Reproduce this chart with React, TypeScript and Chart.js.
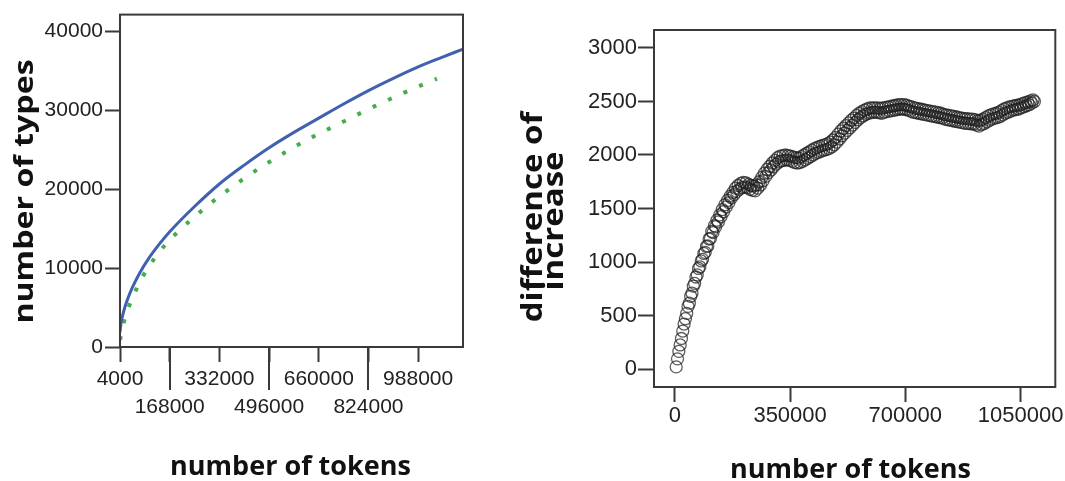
import { useEffect, useRef } from "react";
import { Chart, registerables } from "chart.js";

Chart.register(...registerables);

// ---- Left panel: type growth against corpus size ----
const observedTokens = [4000, 8000, 16000, 28000, 45000, 70000, 100000, 135000, 168000, 250000, 332000, 414000, 496000, 578000, 660000, 742000, 824000, 906000, 988000, 1062000, 1136000];
const observedTypes = [1900, 3150, 4500, 5950, 7550, 9450, 11300, 13100, 14600, 17800, 20660, 23050, 25250, 27200, 29000, 30800, 32500, 34050, 35500, 36650, 37750];

const modelTokens = [4000, 15000, 31000, 53000, 80000, 119000, 158000, 202000, 301000, 350000, 400000, 505000, 612000, 664000, 720000, 830000, 940000, 997000, 1050000];
const modelTypes = [900, 2900, 4900, 6900, 9000, 11300, 13150, 14850, 18150, 19600, 21000, 23650, 26050, 27100, 28150, 30250, 32200, 33150, 34000];

const growthXTicks = [4000, 168000, 332000, 496000, 660000, 824000, 988000];
const growthYTicks = [0, 10000, 20000, 30000, 40000];

// ---- Right panel: difference of increase (tokens in thousands) ----
const diffTokensK = [
  4, 8, 12, 16, 20, 24, 28, 32, 36, 40, 44, 48, 52, 56, 60, 64, 68, 72, 76, 80,
  84, 88, 92, 96, 100, 104, 108, 112, 116, 120, 124, 128, 132, 136, 140, 144, 148, 152, 156, 160,
  164, 168, 172, 176, 180, 184, 188, 192, 196, 200, 204, 208, 212, 216, 220, 224, 228, 232, 236, 240,
  244, 248, 252, 256, 260, 264, 268, 272, 276, 280, 284, 288, 292, 296, 300, 304, 308, 312, 316, 320,
  324, 328, 332, 336, 340, 344, 348, 352, 356, 360, 364, 368, 372, 376, 380, 384, 388, 392, 396, 400,
  404, 408, 412, 416, 420, 424, 428, 432, 436, 440, 444, 448, 452, 456, 460, 464, 468, 472, 476, 480,
  484, 488, 492, 496, 500, 504, 508, 512, 516, 520, 524, 528, 532, 536, 540, 544, 548, 552, 556, 560,
  564, 568, 572, 576, 580, 584, 588, 592, 596, 600, 604, 608, 612, 616, 620, 624, 628, 632, 636, 640,
  644, 648, 652, 656, 660, 664, 668, 672, 676, 680, 684, 688, 692, 696, 700, 704, 708, 712, 716, 720,
  724, 728, 732, 736, 740, 744, 748, 752, 756, 760, 764, 768, 772, 776, 780, 784, 788, 792, 796, 800,
  804, 808, 812, 816, 820, 824, 828, 832, 836, 840, 844, 848, 852, 856, 860, 864, 868, 872, 876, 880,
  884, 888, 892, 896, 900, 904, 908, 912, 916, 920, 924, 928, 932, 936, 940, 944, 948, 952, 956, 960,
  964, 968, 972, 976, 980, 984, 988, 992, 996, 1000, 1004, 1008, 1012, 1016, 1020, 1024, 1028, 1032, 1036, 1040,
  1044, 1048, 1052, 1056, 1060, 1064, 1068, 1072, 1076, 1080, 1084, 1088, 1092,
];
const diffValues = [
  20, 95, 165, 225, 285, 355, 420, 470, 520, 585, 615, 680, 710, 775, 800, 860, 880, 940, 955, 1010,
  1025, 1080, 1090, 1145, 1150, 1215, 1220, 1285, 1275, 1340, 1330, 1390, 1375, 1440, 1425, 1490, 1470, 1535, 1515, 1575,
  1555, 1615, 1600, 1650, 1630, 1690, 1660, 1715, 1680, 1735, 1695, 1745, 1700, 1740, 1695, 1725, 1680, 1715, 1670, 1710,
  1665, 1720, 1690, 1750, 1720, 1790, 1760, 1830, 1800, 1865, 1835, 1895, 1860, 1925, 1890, 1950, 1915, 1975, 1935, 1990,
  1945, 1995, 1950, 2000, 1955, 1995, 1950, 1990, 1940, 1980, 1930, 1975, 1925, 1970, 1930, 1985, 1940, 2000, 1955, 2015,
  1970, 2030, 1985, 2045, 2000, 2060, 2015, 2070, 2025, 2080, 2035, 2090, 2045, 2095, 2050, 2105, 2060, 2120, 2075, 2140,
  2095, 2165, 2120, 2195, 2150, 2225, 2180, 2250, 2205, 2275, 2230, 2300, 2255, 2325, 2280, 2345, 2305, 2370, 2330, 2390,
  2350, 2405, 2365, 2420, 2380, 2430, 2390, 2440, 2395, 2440, 2400, 2440, 2400, 2440, 2395, 2435, 2390, 2440, 2400, 2445,
  2405, 2450, 2410, 2455, 2415, 2460, 2420, 2465, 2425, 2470, 2430, 2470, 2430, 2470, 2425, 2465, 2420, 2455, 2410, 2450,
  2400, 2440, 2395, 2435, 2390, 2430, 2385, 2425, 2380, 2420, 2375, 2415, 2370, 2410, 2365, 2405, 2360, 2400, 2355, 2395,
  2350, 2390, 2345, 2380, 2335, 2375, 2330, 2370, 2325, 2365, 2320, 2360, 2315, 2355, 2310, 2350, 2305, 2345, 2300, 2340,
  2295, 2340, 2295, 2335, 2290, 2335, 2290, 2330, 2280, 2320, 2270, 2325, 2285, 2335, 2295, 2350, 2310, 2365, 2325, 2375,
  2335, 2385, 2345, 2390, 2350, 2400, 2360, 2415, 2375, 2430, 2390, 2440, 2400, 2450, 2410, 2455, 2420, 2460, 2425, 2465,
  2430, 2470, 2440, 2480, 2450, 2490, 2460, 2495, 2470, 2505, 2485, 2515, 2500,
];

const diffXTicks = [0, 350000, 700000, 1050000];
const diffYTicks = [0, 500, 1000, 1500, 2000, 2500, 3000];

const TICK_FONT = '"Liberation Sans", Arial, sans-serif';
const TITLE_FONT = '"Open Sans", "DejaVu Sans", sans-serif';
const INK = "#222";
const FRAME = "#3a3a3a";

type TitleSpec = {
  text: string;
  x: number;
  y: number;
  size: number;
  vertical?: boolean;
  stretch?: number;
};

// Draws the plot frame, axis titles and optional long alternate ticks.
function decorPlugin(titles: TitleSpec[], longTicks: number) {
  return {
    id: "decor",
    afterDraw(chart: Chart) {
      const { ctx, chartArea: a } = chart;
      ctx.save();
      ctx.strokeStyle = FRAME;
      ctx.lineWidth = 2;
      ctx.strokeRect(a.left, a.top, a.right - a.left, a.bottom - a.top);

      if (longTicks > 0) {
        const xs: any = chart.scales.x;
        xs.ticks.forEach((_t: any, i: number) => {
          if (i % 2 === 1) {
            const px = Math.round(xs.getPixelForTick(i));
            ctx.beginPath();
            ctx.moveTo(px, a.bottom);
            ctx.lineTo(px, a.bottom + longTicks);
            ctx.stroke();
          }
        });
      }

      ctx.fillStyle = "#111";
      ctx.textAlign = "center";
      ctx.textBaseline = "alphabetic";
      for (const t of titles) {
        ctx.save();
        ctx.font = `700 ${t.size}px ${TITLE_FONT}`;
        ctx.translate(t.x, t.y);
        if (t.vertical) ctx.rotate(-Math.PI / 2);
        ctx.scale(t.stretch ?? 1, 1);
        ctx.fillText(t.text, 0, 0);
        ctx.restore();
      }
      ctx.restore();
    },
  };
}

function setTicks(values: number[]) {
  return (scale: any) => {
    scale.ticks = values.map((v) => ({ value: v }));
  };
}

function tickGrid(len: number) {
  return {
    display: true,
    drawOnChartArea: false,
    drawTicks: true,
    tickLength: len,
    tickWidth: 2,
    tickColor: FRAME,
  };
}

function growthConfig(): any {
  return {
    type: "line",
    data: {
      datasets: [
        {
          data: modelTokens.map((x, i) => ({ x, y: modelTypes[i] })),
          borderColor: "#46ad4e",
          borderWidth: 4,
          borderDash: [4, 13],
          pointRadius: 0,
          fill: false,
          cubicInterpolationMode: "monotone",
          order: 2,
        },
        {
          data: observedTokens.map((x, i) => ({ x, y: observedTypes[i] })),
          borderColor: "#4060b0",
          borderWidth: 3,
          pointRadius: 0,
          fill: false,
          cubicInterpolationMode: "monotone",
          order: 1,
        },
      ],
    },
    options: {
      responsive: false,
      animation: false,
      events: [],
      layout: { padding: { left: 0, top: 10, right: 37, bottom: 0 } },
      plugins: { legend: { display: false }, tooltip: { enabled: false } },
      scales: {
        x: {
          type: "linear",
          min: 4000,
          max: 1136000,
          afterBuildTicks: setTicks(growthXTicks),
          afterFit: (s: any) => {
            s.height = 134;
          },
          grid: tickGrid(15),
          border: { display: false },
          ticks: {
            autoSkip: false,
            maxRotation: 0,
            padding: 4,
            color: INK,
            font: { family: TICK_FONT, size: 21, lineHeight: 1.3 },
            callback: (v: any, i: number) => (i % 2 === 1 ? ["", String(v)] : String(v)),
          },
        },
        y: {
          type: "linear",
          min: 0,
          max: 42125,
          afterBuildTicks: setTicks(growthYTicks),
          afterFit: (s: any) => {
            s.width = 120;
          },
          grid: tickGrid(15),
          border: { display: false },
          ticks: {
            padding: 2,
            color: INK,
            font: { family: TICK_FONT, size: 21 },
            callback: (v: any) => String(v),
          },
        },
      },
    },
    plugins: [
      decorPlugin(
        [
          { text: "number of tokens", x: 290.5, y: 475, size: 27 },
          { text: "number of types", x: 33, y: 191.5, size: 27, vertical: true, stretch: 1.19 },
        ],
        43
      ),
    ],
  };
}

function diffConfig(): any {
  return {
    type: "scatter",
    data: {
      datasets: [
        {
          data: diffTokensK.map((k, i) => ({ x: k * 1000, y: diffValues[i] })),
          pointRadius: 6,
          pointStyle: "circle",
          backgroundColor: "rgba(0,0,0,0)",
          borderColor: "rgba(30,30,30,0.72)",
          borderWidth: 1.3,
        },
      ],
    },
    options: {
      responsive: false,
      animation: false,
      events: [],
      layout: { padding: { left: 0, top: 30, right: 7, bottom: 0 } },
      plugins: { legend: { display: false }, tooltip: { enabled: false } },
      scales: {
        x: {
          type: "linear",
          min: -63400,
          max: 1155600,
          afterBuildTicks: setTicks(diffXTicks),
          afterFit: (s: any) => {
            s.height = 94;
          },
          grid: tickGrid(15),
          border: { display: false },
          ticks: {
            autoSkip: false,
            maxRotation: 0,
            padding: 1,
            color: INK,
            font: { family: TICK_FONT, size: 22 },
            callback: (v: any) => String(v),
          },
        },
        y: {
          type: "linear",
          min: -168,
          max: 3168,
          afterBuildTicks: setTicks(diffYTicks),
          afterFit: (s: any) => {
            s.width = 154;
          },
          grid: tickGrid(16),
          border: { display: false },
          ticks: {
            padding: 1,
            color: INK,
            font: { family: TICK_FONT, size: 22 },
            callback: (v: any) => String(v),
          },
        },
      },
    },
    plugins: [
      decorPlugin(
        [
          { text: "number of tokens", x: 350.5, y: 478, size: 27 },
          { text: "difference of", x: 42, y: 217, size: 28, vertical: true, stretch: 1.18 },
          { text: "increase", x: 63, y: 221, size: 28, vertical: true, stretch: 1.18 },
        ],
        0
      ),
    ],
  };
}

export default function App() {
  const leftRef = useRef<HTMLCanvasElement>(null);
  const rightRef = useRef<HTMLCanvasElement>(null);

  useEffect(() => {
    const growth = new Chart(leftRef.current!, growthConfig());
    const diff = new Chart(rightRef.current!, diffConfig());
    return () => {
      growth.destroy();
      diff.destroy();
    };
  }, []);

  return (
    <div
      style={{
        position: "fixed",
        left: 0,
        top: 0,
        width: 1065,
        height: 481,
        background: "#fff",
        overflow: "hidden",
      }}
    >
      <canvas
        ref={leftRef}
        width={500}
        height={481}
        style={{ position: "absolute", left: 0, top: 0 }}
      />
      <canvas
        ref={rightRef}
        width={565}
        height={481}
        style={{ position: "absolute", left: 500, top: 0 }}
      />
    </div>
  );
}
